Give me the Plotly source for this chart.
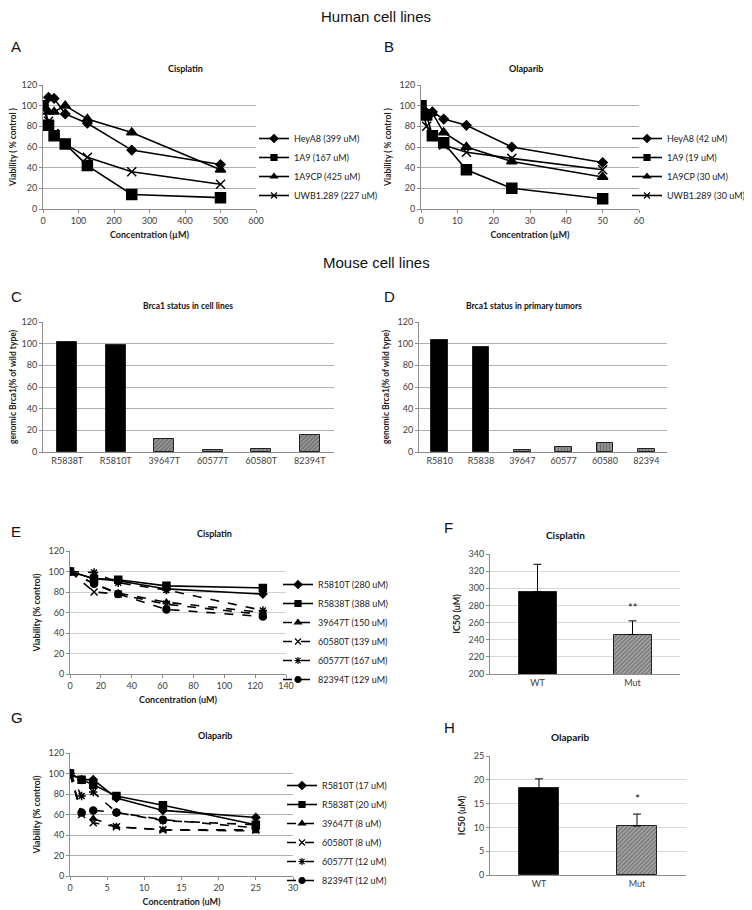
import plotly.graph_objects as go

# ---------------- data ----------------
conc_cis_h = [0, 15.6, 31.25, 62.5, 125, 250, 500]
cis_h = {
    "HeyA8 (399 uM)": [100, 108, 107, 92, 83, 57, 43],
    "1A9 (167 uM)": [100, 81, 71, 63, 42, 14, 11],
    "1A9CP (425 uM)": [100, 94, 94, 100, 87, 74, 38],
    "UWB1.289 (227 uM)": [100, 85, 73, 63, 50, 36, 24],
}
conc_ola_h = [0, 1.56, 3.125, 6.25, 12.5, 25, 50]
ola_h = {
    "HeyA8 (42 uM)": [100, 93, 94, 87, 81, 60, 45],
    "1A9 (19 uM)": [100, 91, 71, 64, 38, 20, 10],
    "1A9CP (30 uM)": [100, 92, 93, 74, 60, 46, 31],
    "UWB1.289 (30 uM)": [100, 80, 71, 62, 55, 49, 38],
}
cells_c = ["R5838T", "R5810T", "39647T", "60577T", "60580T", "82394T"]
brca_c = [102, 99, 12, 2, 3, 16]
tumors_d = ["R5810", "R5838", "39647", "60577", "60580", "82394"]
brca_d = [103, 97, 2, 5, 8, 3]

conc_cis_m = [0, 15.6, 31.25, 62.5, 125]
cis_m = {
    "R5810T (280 uM)": [100, 93, 91, 83, 78],
    "R5838T (388 uM)": [100, 93, 92, 86, 84],
    "39647T (150 uM)": [100, 88, 79, 70, 60],
    "60580T (139 uM)": [100, 80, 78, 68, 58],
    "60577T (167 uM)": [100, 99, 89, 82, 62],
    "82394T (129 uM)": [100, 88, 78, 63, 56],
}
conc_ola_m = [0, 1.56, 3.125, 6.25, 12.5, 25]
ola_m = {
    "R5810T (17 uM)": [100, 94, 94, 76, 64, 57],
    "R5838T (20 uM)": [100, 94, 89, 78, 69, 50],
    "39647T (8 uM)": [100, 61, 56, 48, 45, 44],
    "60580T (8 uM)": [100, 60, 52, 48, 45, 45],
    "60577T (12 uM)": [100, 78, 82, 62, 54, 50],
    "82394T (12 uM)": [100, 62, 64, 62, 55, 47],
}
groups = ["WT", "Mut"]
ic50_cis = [296, 246]
ic50_cis_err = [32, 16]
ic50_ola = [18.2, 10.3]
ic50_ola_err = [2.0, 2.5]

# ---------------- styles ----------------
FONT = "Lato"
human_sym = ["diamond", "square", "triangle-up", "x-thin-open"]
human_size = [7, 10, 9, 9]
mouse_sym = ["diamond", "square", "triangle-up", "x-thin-open", "asterisk-open", "circle"]
mouse_size = [6, 7, 6, 7, 7, 7]
mouse_dash = ["solid", "solid", "dash", "dash", "dash", "dash"]

fig = go.Figure()

def add_lines(conc, series, xa, ya, legend, syms, sizes, dashes=None):
    for i, (name, vals) in enumerate(series.items()):
        dash = dashes[i] if dashes else "solid"
        fig.add_trace(go.Scatter(
            x=conc, y=vals, name=name, mode="lines+markers",
            xaxis=xa, yaxis=ya, showlegend=False,
            line=dict(color="black", width=1.6, dash=dash),
            marker=dict(symbol=syms[i], size=sizes[i], color="black",
                        line=dict(color="black", width=1.5)),
        ))
        # legend entry with a smaller symbol, as in the reference legend
        fig.add_trace(go.Scatter(
            x=[None], y=[None], name=name, mode="lines+markers",
            xaxis=xa, yaxis=ya, legend=legend,
            line=dict(color="black", width=1.6, dash=dash),
            marker=dict(symbol=syms[i], size=6, color="black",
                        line=dict(color="black", width=1.2)),
        ))

add_lines(conc_cis_h, cis_h, "x", "y", "legend", human_sym, human_size)
add_lines(conc_ola_h, ola_h, "x2", "y2", "legend2", human_sym, human_size)
add_lines(conc_cis_m, cis_m, "x5", "y5", "legend3", mouse_sym, mouse_size, mouse_dash)
add_lines(conc_ola_m, ola_m, "x7", "y7", "legend4", mouse_sym, mouse_size, mouse_dash)

def bar_marker(n_black, n, shape, fg, bg, size, solidity):
    return dict(
        color=["black"] * n_black + [bg] * (n - n_black),
        line=dict(color="#222", width=1),
        pattern=dict(shape=[""] * n_black + [shape] * (n - n_black),
                     fgcolor=fg, bgcolor=["black"] * n_black + [bg] * (n - n_black),
                     size=size, solidity=solidity),
    )

fig.add_trace(go.Bar(x=cells_c, y=brca_c, xaxis="x3", yaxis="y3", showlegend=False,
                     width=0.42, marker=bar_marker(2, 6, "/", "#111", "#9a9a9a", 3, 0.5)))
fig.add_trace(go.Bar(x=tumors_d, y=brca_d, xaxis="x4", yaxis="y4", showlegend=False,
                     width=0.41, marker=bar_marker(2, 6, "|", "#333", "#999999", 3, 0.45)))

for xa, ya, vals, errs in [("x6", "y6", ic50_cis, ic50_cis_err), ("x8", "y8", ic50_ola, ic50_ola_err)]:
    fig.add_trace(go.Bar(
        x=groups, y=vals, xaxis=xa, yaxis=ya, showlegend=False, width=0.4,
        marker=bar_marker(1, 2, "/", "#111", "#a8a8a8", 3, 0.5),
        error_y=dict(type="data", array=errs, arrayminus=[0, 0], symmetric=False,
                     color="black", thickness=1, width=4),
    ))

# ---------------- axes ----------------
# the page body has an 8px margin, so the figure is 8px smaller and positions are shifted
OFF = 8
W, H = 752 - OFF, 910 - OFF
def px_dom(a, b):
    return [(a - OFF) / W, (b - OFF) / W]
def py_dom(top, bottom):
    return [1 - (bottom - OFF) / H, 1 - (top - OFF) / H]

tickf = dict(family=FONT, size=9, color="#404040")
def xax(dom, rng=None, dtick=None, title=None, cat=False):
    d = dict(domain=dom, showgrid=False, showline=True, linecolor="#8c8c8c", linewidth=1,
             ticks="outside", ticklen=3, tickcolor="#8c8c8c", tickfont=tickf,
             zeroline=False, fixedrange=True, automargin=False)
    if rng is not None:
        d.update(range=rng, dtick=dtick, tick0=0)
    if cat:
        d.update(type="category", ticks="")
    if title:
        d.update(title=dict(text="<b>" + title + "</b>", font=dict(family=FONT, size=9, color="#222"), standoff=6))
    return d

def yax(dom, rng, dtick, title, anchor, gridc="#b0b0b0", size=8.5):
    return dict(domain=dom, range=rng, dtick=dtick, showgrid=True, gridcolor=gridc, gridwidth=1,
                showline=True, linecolor="#8c8c8c", linewidth=1, ticks="outside", ticklen=3,
                tickcolor="#8c8c8c", tickfont=tickf, zeroline=False, anchor=anchor, fixedrange=True,
                automargin=False,
                title=dict(text="<b>" + title + "</b>", font=dict(family=FONT, size=size, color="#222"), standoff=6))

layout = dict(
    width=W, height=H, margin=dict(l=0, r=0, t=0, b=0, autoexpand=False),
    paper_bgcolor="white", plot_bgcolor="white", bargap=0,
    font=dict(family=FONT, color="#222"),
    xaxis=xax(px_dom(43, 256), [0, 600], 100, "Concentration (µM)"),
    yaxis=yax(py_dom(85, 209), [0, 120], 20, "Viability ( % control )", "x"),
    xaxis2=xax(px_dom(421, 639), [0, 60], 10, "Concentration (µM)"),
    yaxis2=yax(py_dom(85, 209), [0, 120], 20, "Viability ( % control )", "x2"),
    xaxis3=xax(px_dom(43, 334), cat=True),
    yaxis3=yax(py_dom(322, 452), [0, 120], 20, "genomic Brca1(% of wild type)", "x3"),
    xaxis4=xax(px_dom(419, 667), cat=True),
    yaxis4=yax(py_dom(322, 452), [0, 120], 20, "genomic Brca1(% of wild type)", "x4"),
    xaxis5=xax(px_dom(70, 286), [0, 140], 20, "Concentration (uM)"),
    yaxis5=yax(py_dom(551, 674), [0, 120], 20, "Viability (% control)", "x5", "#d0d0d0", 9),
    xaxis6=xax(px_dom(490, 680), cat=True),
    yaxis6=yax(py_dom(554, 674), [200, 340], 20, "IC50 (uM)", "x6", "#d9d9d9", 9),
    xaxis7=xax(px_dom(70, 293), [0, 30], 5, "Concentration (uM)"),
    yaxis7=yax(py_dom(753, 876), [0, 120], 20, "Viability (% control)", "x7", "#b0b0b0", 9),
    xaxis8=xax(px_dom(490, 686), cat=True),
    yaxis8=yax(py_dom(756, 875), [0, 25], 5, "IC50 (uM)", "x8", "#d9d9d9", 9),
)
for k in ["xaxis", "xaxis2", "xaxis3", "xaxis4", "xaxis5", "xaxis6", "xaxis7", "xaxis8"]:
    n = k.replace("xaxis", "")
    layout[k]["anchor"] = "y" + n

legf = dict(family=FONT, size=9, color="#222")
def leg(xp, yp):
    return dict(x=(xp - OFF) / W, y=1 - (yp - OFF) / H, xanchor="left", yanchor="top", font=legf,
                bgcolor="rgba(0,0,0,0)", borderwidth=0, itemwidth=30, tracegroupgap=0)
layout["legend"] = leg(254, 124)
layout["legend2"] = leg(627, 124)
layout["legend3"] = leg(278, 570)
layout["legend4"] = leg(282, 771)
fig.update_layout(**layout)

# ---------------- text ----------------
def txt(x, y, s, size, bold=False, family="Liberation Sans", xanchor="center"):
    fig.add_annotation(x=(x - OFF) / W, y=1 - (y - OFF) / H, xref="paper", yref="paper", showarrow=False,
                       text=("<b>%s</b>" % s) if bold else s, xanchor=xanchor, yanchor="middle",
                       font=dict(family=family, size=size, color="#111"))

txt(376, 16, "Human cell lines", 15)
txt(376, 262, "Mouse cell lines", 15)
for lab, x, y in [("A", 9, 47), ("B", 382, 47), ("C", 9, 296), ("D", 382, 296),
                  ("E", 9, 531), ("F", 442, 527), ("G", 9, 717), ("H", 442, 727)]:
    txt(x, y, lab, 15, xanchor="left")
txt(185, 68, "Cisplatin", 9, True, FONT)
txt(526, 68, "Olaparib", 9, True, FONT)
txt(188, 306, "Brca1 status in cell lines", 8.5, True, FONT)
txt(524, 306, "Brca1 status in primary tumors", 8.5, True, FONT)
txt(215, 533, "Cisplatin", 9, True, FONT)
txt(565, 535, "Cisplatin", 10, True, FONT)
txt(215, 735, "Olaparib", 9, True, FONT)
txt(570, 737, "Olaparib", 10, True, FONT)

fig.add_annotation(x="Mut", y=278, xref="x6", yref="y6", text="**", showarrow=False,
                   font=dict(family=FONT, size=11, color="#111"))
fig.add_annotation(x="Mut", y=16, xref="x8", yref="y8", text="*", showarrow=False,
                   font=dict(family=FONT, size=12, color="#111"))

fig.write_html("out.html")
